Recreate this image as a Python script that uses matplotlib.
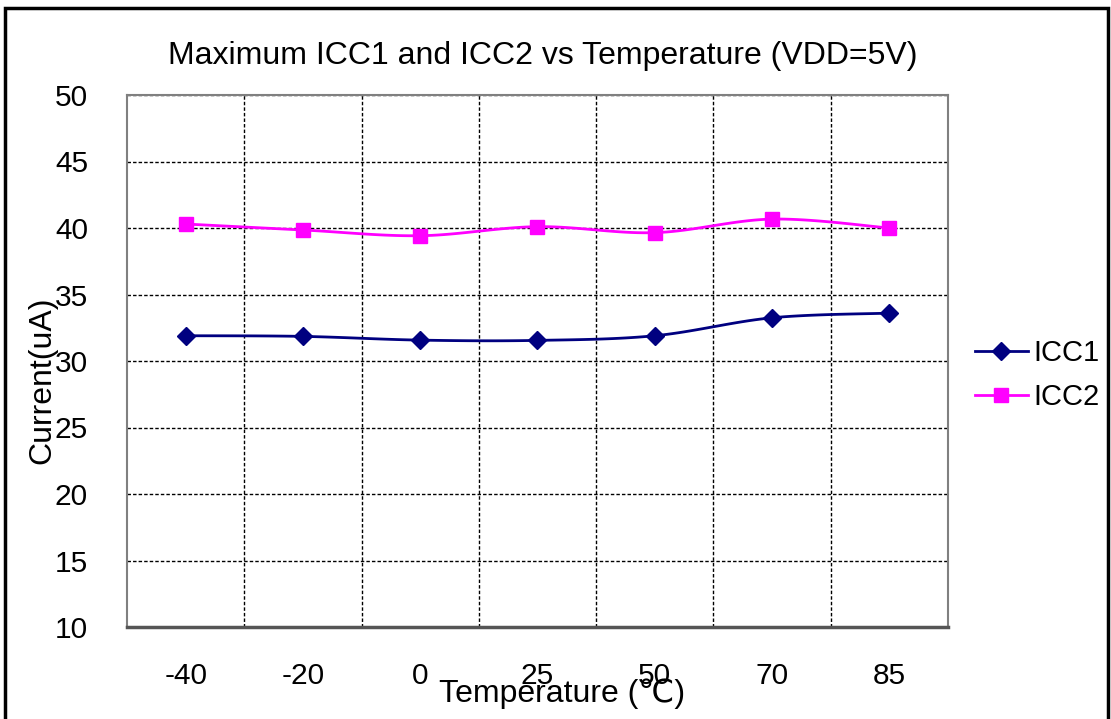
import numpy as np
import matplotlib
matplotlib.use("Agg")
import matplotlib.pyplot as plt
from matplotlib.patches import Rectangle
from matplotlib.lines import Line2D

plt.rcParams['font.family'] = ['Liberation Sans', 'DejaVu Sans']

categories = ["-40", "-20", "0", "25", "50", "70", "85"]
icc1 = [31.9, 31.85, 31.57, 31.55, 31.9, 33.25, 33.6]
icc2 = [40.3, 39.85, 39.42, 40.1, 39.65, 40.67, 40.0]
title = "Maximum ICC1 and ICC2 vs Temperature (VDD=5V)"

W, H = 1111, 719
fig = plt.figure(figsize=(W / 100, H / 100), dpi=100)

# outer frame
fig.patches.append(Rectangle((5 / W, -0.05), (1108 - 5) / W, (H - 8) / H + 0.05,
                             transform=fig.transFigure, fill=False,
                             edgecolor='black', linewidth=2.5, zorder=10))

left, right, top, bottom = 127, 948, 95, 627
ax = fig.add_axes([left / W, 1 - bottom / H, (right - left) / W, (bottom - top) / H])

n = len(categories)
xs = np.arange(n)


def smooth(x, y, k=20):
    x = np.asarray(x, float)
    y = np.asarray(y, float)
    px = np.concatenate([[x[0]], x, [x[-1]]])
    py = np.concatenate([[y[0]], y, [y[-1]]])
    ox, oy = [], []
    for i in range(1, len(px) - 2):
        t = np.linspace(0, 1, k, endpoint=False)
        p0x, p1x, p2x, p3x = px[i - 1], px[i], px[i + 1], px[i + 2]
        p0y, p1y, p2y, p3y = py[i - 1], py[i], py[i + 1], py[i + 2]
        c1x = p1x + (p2x - p0x) / 6
        c1y = p1y + (p2y - p0y) / 6
        c2x = p2x - (p3x - p1x) / 6
        c2y = p2y - (p3y - p1y) / 6
        bx = (1 - t) ** 3 * p1x + 3 * (1 - t) ** 2 * t * c1x + 3 * (1 - t) * t ** 2 * c2x + t ** 3 * p2x
        by = (1 - t) ** 3 * p1y + 3 * (1 - t) ** 2 * t * c1y + 3 * (1 - t) * t ** 2 * c2y + t ** 3 * p2y
        ox.extend(bx)
        oy.extend(by)
    ox.append(x[-1])
    oy.append(y[-1])
    return np.array(ox), np.array(oy)


c1 = '#000080'
c2 = '#FF00FF'
lw = 2.0
sx, sy = smooth(xs, icc1)
ax.plot(sx, sy, color=c1, lw=lw, zorder=3)
ax.plot(xs, icc1, linestyle='none', marker='D', color=c1, markersize=9, zorder=4)
sx, sy = smooth(xs, icc2)
ax.plot(sx, sy, color=c2, lw=lw, zorder=3)
ax.plot(xs, icc2, linestyle='none', marker='s', color=c2, markersize=10, zorder=4)

ax.set_xlim(-0.5, n - 0.5)
ax.set_ylim(10, 50)
ax.set_yticks(np.arange(10, 51, 5))
ax.set_xticks(xs)
ax.set_xticklabels(categories)
ax.set_xticks(np.arange(0.5, n - 0.5, 1), minor=True)
ax.grid(True, axis='y', which='major', color='black', linestyle=(0, (2.5, 1.5)), linewidth=1)
ax.grid(True, axis='x', which='minor', color='black', linestyle=(0, (2.5, 1.5)), linewidth=1)
ax.set_axisbelow(True)
ax.tick_params(axis='x', which='both', length=0, labelsize=21.5, pad=25)
ax.tick_params(axis='y', which='both', length=0, labelsize=21.5, pad=28)
for s in ['top', 'right', 'left']:
    ax.spines[s].set_color('#808080')
    ax.spines[s].set_linewidth(1.5)
ax.spines['bottom'].set_color('#555555')
ax.spines['bottom'].set_linewidth(2.5)

fig.text(543 / W, 1 - 56 / H, title, ha='center', va='center', fontsize=23)
fig.text(562 / W, 1 - 694 / H, "Temperature (\u2103)", ha='center', va='center', fontsize=23)
fig.text(42 / W, 1 - 380 / H, "Current(uA)", ha='center', va='center', rotation=90, fontsize=23)

handles = [Line2D([], [], color=c1, lw=lw, marker='D', markersize=9),
           Line2D([], [], color=c2, lw=lw, marker='s', markersize=10)]
fig.legend(handles, ["ICC1", "ICC2"], loc='center left',
           bbox_to_anchor=(975 / W, 1 - 375 / H), frameon=False, fontsize=21,
           handlelength=1.8, handletextpad=0.2, labelspacing=0.55, borderaxespad=0,
           borderpad=0)

fig.savefig("out.png", dpi=100)
